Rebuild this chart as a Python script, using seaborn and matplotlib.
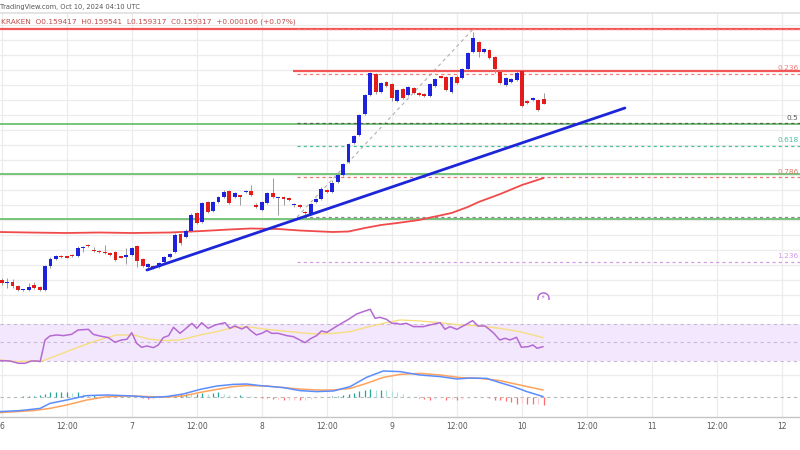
import numpy as np
import pandas as pd
import matplotlib
matplotlib.use("Agg")
import matplotlib.pyplot as plt
import seaborn as sns

# ---------------- data (hourly candles, Oct 6 00:00 = hour 0) ----------------
hours = list(range(101))
opens = [0.15580, 0.15574, 0.15576, 0.15568, 0.15560, 0.15560, 0.15570, 0.15566, 0.15560, 0.15608,
         0.15622, 0.15628, 0.15626, 0.15630, 0.15628, 0.15644, 0.15650, 0.15640, 0.15638, 0.15636,
         0.15634, 0.15636, 0.15626, 0.15626, 0.15630, 0.15648, 0.15622, 0.15606, 0.15608, 0.15606,
         0.15616, 0.15626, 0.15636, 0.15672, 0.15666, 0.15678, 0.15714, 0.15696, 0.15736, 0.15718,
         0.15736, 0.15746, 0.15758, 0.15746, 0.15748, 0.15756, 0.15758, 0.15728, 0.15720, 0.15734,
         0.15754, 0.15744, 0.15744, 0.15744, 0.15730, 0.15730, 0.15716, 0.15712, 0.15736, 0.15742,
         0.15760, 0.15756, 0.15776, 0.15790, 0.15816, 0.15854, 0.15870, 0.15912, 0.15950, 0.15992,
         0.15956, 0.15976, 0.15972, 0.15938, 0.15962, 0.15950, 0.15964, 0.15954, 0.15952, 0.15948,
         0.15968, 0.15986, 0.15986, 0.15956, 0.15986, 0.15984, 0.16002, 0.16036, 0.16056, 0.16036,
         0.16040, 0.16026, 0.15996, 0.15970, 0.15976, 0.15980, 0.15998, 0.15936, 0.15940, 0.15940,
         0.159417]
closes = [0.15574, 0.15576, 0.15568, 0.15560, 0.15561, 0.15566, 0.15564, 0.15560, 0.15608, 0.15622,
          0.15628, 0.15626, 0.15625, 0.15628, 0.15644, 0.15645, 0.15648, 0.15638, 0.15636, 0.15634,
          0.15630, 0.15620, 0.15625, 0.15630, 0.15644, 0.15618, 0.15608, 0.15612, 0.15604, 0.15614,
          0.15626, 0.15632, 0.15670, 0.15654, 0.15678, 0.15710, 0.15694, 0.15734, 0.15716, 0.15736,
          0.15746, 0.15756, 0.15734, 0.15754, 0.15747, 0.15758, 0.15750, 0.15727, 0.15736, 0.15754,
          0.15746, 0.15745, 0.15743, 0.15740, 0.15732, 0.15726, 0.15714, 0.15732, 0.15742, 0.15762,
          0.15756, 0.15774, 0.15790, 0.15812, 0.15852, 0.15868, 0.15910, 0.15950, 0.15994, 0.15956,
          0.15974, 0.15968, 0.15944, 0.15960, 0.15944, 0.15966, 0.15954, 0.15950, 0.15948, 0.15972,
          0.15982, 0.15985, 0.15960, 0.15986, 0.15974, 0.16002, 0.16034, 0.16064, 0.16036, 0.16042,
          0.16024, 0.16002, 0.15974, 0.15984, 0.15982, 0.15994, 0.15928, 0.15935, 0.15944, 0.15921,
          0.159317]
highs = [0.15584, 0.15584, 0.15582, 0.15570, 0.15562, 0.15574, 0.15576, 0.15568, 0.15610, 0.15626,
         0.15630, 0.15630, 0.15628, 0.15632, 0.15648, 0.15648, 0.15652, 0.15646, 0.15640, 0.15650,
         0.15636, 0.15638, 0.15628, 0.15644, 0.15646, 0.15650, 0.15624, 0.15614, 0.15610, 0.15616,
         0.15628, 0.15634, 0.15674, 0.15674, 0.15682, 0.15714, 0.15716, 0.15736, 0.15738, 0.15738,
         0.15748, 0.15760, 0.15760, 0.15756, 0.15750, 0.15760, 0.15770, 0.15734, 0.15738, 0.15756,
         0.15784, 0.15746, 0.15748, 0.15746, 0.15734, 0.15732, 0.15718, 0.15734, 0.15744, 0.15766,
         0.15762, 0.15780, 0.15792, 0.15814, 0.15854, 0.15870, 0.15912, 0.15952, 0.15996, 0.15994,
         0.15976, 0.15978, 0.15974, 0.15962, 0.15964, 0.15968, 0.15966, 0.15956, 0.15954, 0.15974,
         0.15984, 0.15988, 0.15988, 0.15988, 0.15990, 0.16004, 0.16036, 0.16076, 0.16058, 0.16044,
         0.16042, 0.16028, 0.15998, 0.15986, 0.15984, 0.15998, 0.16000, 0.15940, 0.15946, 0.15942,
         0.159541]
lows = [0.15570, 0.15564, 0.15564, 0.15558, 0.15558, 0.15558, 0.15562, 0.15558, 0.15558, 0.15604,
        0.15620, 0.15624, 0.15624, 0.15626, 0.15626, 0.15636, 0.15646, 0.15636, 0.15634, 0.15632,
        0.15628, 0.15618, 0.15624, 0.15612, 0.15628, 0.15606, 0.15606, 0.15604, 0.15602, 0.15604,
        0.15614, 0.15624, 0.15634, 0.15650, 0.15664, 0.15676, 0.15692, 0.15694, 0.15714, 0.15716,
        0.15734, 0.15744, 0.15732, 0.15744, 0.15730, 0.15754, 0.15748, 0.15724, 0.15718, 0.15732,
        0.15744, 0.15710, 0.15730, 0.15738, 0.15726, 0.15724, 0.15710, 0.15710, 0.15734, 0.15740,
        0.15754, 0.15754, 0.15774, 0.15788, 0.15814, 0.15852, 0.15868, 0.15910, 0.15948, 0.15952,
        0.15954, 0.15966, 0.15938, 0.15936, 0.15942, 0.15948, 0.15952, 0.15948, 0.15946, 0.15946,
        0.15966, 0.15984, 0.15958, 0.15954, 0.15972, 0.15982, 0.16000, 0.16034, 0.16026, 0.16034,
        0.16022, 0.15994, 0.15972, 0.15968, 0.15974, 0.15978, 0.15926, 0.15932, 0.15938, 0.15918,
        0.159317]

# 100 hourly simple moving average (red)
sma_hours = [-0.3, 5, 12, 18, 24, 31, 37, 42, 46, 51, 55, 61, 64, 67, 70, 73, 77, 83, 86, 88, 92, 96, 100]
sma_values = [0.15676, 0.15675, 0.15674, 0.15675, 0.15674, 0.15675, 0.15678, 0.15681, 0.15683, 0.15682,
              0.15679, 0.15676, 0.15677, 0.15684, 0.15690, 0.15694, 0.15700, 0.15714, 0.15726, 0.15736,
              0.15752, 0.15770, 0.15784]

# bullish trend line
trend_hours = [26.8, 115.0]
trend_prices = [0.15600, 0.15924]

# horizontal levels
green_levels = [0.15892, 0.15793, 0.15703]
red_top_level = 0.16082
red_mid_level = 0.15998
red_mid_start = 53.7

# fibonacci retracement
fib_labels = ["0", "0.236", "0.5", "0.618", "0.786", "1", "1.236"]
fib_prices = [0.16082, 0.15993, 0.15894, 0.15849, 0.15786, 0.15706, 0.15617]
fib_colors = ["#f47a7a", "#f47a7a", "#5a5a5a", "#4cbf9f", "#e07a6a", "#8a8a8a", "#d59ae6"]
fib_start = 54.5
fib_anchor_hours = [54.5, 87.0]
fib_anchor_prices = [0.15706, 0.16082]

# RSI (14) and its moving average
rsi_hours = [-0.3, 1.5, 3.1, 4.3, 5.5, 6.5, 7.1, 8.0, 8.9, 10.1, 11.4, 12.9, 14.1, 16.0, 16.9, 18.1, 19.7,
             20.9, 22.1, 23.1, 24.0, 24.9, 25.8, 26.8, 28.0, 28.9, 29.8, 30.8, 31.7, 32.9, 33.8, 35.1, 36.0,
             36.9, 38.1, 39.4, 41.2, 42.1, 43.0, 44.3, 45.2, 45.8, 47.0, 48.0, 48.9, 49.8, 51.0, 52.6, 53.8,
             55.0, 56.0, 56.9, 58.1, 59.0, 60.0, 61.2, 62.4, 64.0, 65.5, 66.7, 68.0, 68.9, 69.8, 71.0, 72.0,
             72.9, 73.5, 74.7, 76.0, 77.8, 79.0, 80.9, 81.8, 82.7, 84.0, 85.5, 86.9, 87.9, 89.2, 90.7, 91.9,
             92.9, 93.8, 95.0, 95.9, 97.2, 98.0, 98.8, 99.9]
rsi_values = [30.4, 30.0, 27.5, 27.5, 30.0, 30.0, 29.3, 52.7, 57.0, 58.1, 57.4, 58.8, 63.5, 64.2, 58.8, 57.0,
              55.2, 50.2, 52.7, 53.4, 60.6, 49.1, 44.8, 46.2, 44.4, 47.3, 55.2, 57.4, 66.4, 59.9, 64.2, 70.7,
              65.3, 71.4, 65.3, 68.9, 71.4, 65.3, 67.8, 64.6, 67.1, 63.5, 58.1, 59.9, 62.8, 59.9, 59.9, 57.4,
              56.3, 52.7, 49.8, 53.8, 57.4, 62.4, 61.0, 65.3, 69.6, 75.0, 80.8, 83.3, 85.9, 76.1, 77.2, 75.0,
              70.7, 70.7, 69.6, 70.7, 67.1, 67.1, 68.9, 71.4, 64.2, 67.1, 64.2, 68.9, 73.6, 67.8, 67.8, 60.6,
              52.7, 54.5, 52.7, 55.6, 44.8, 45.5, 47.3, 43.7, 45.5]
rsi_ma_hours = [-0.3, 2.8, 5.8, 7.7, 12.0, 16.9, 21.2, 24.3, 27.4, 30.4, 32.9, 36.6, 39.7, 42.7, 45.2, 48.9,
                52.0, 55.0, 58.1, 61.2, 64.3, 67.3, 70.4, 73.5, 77.2, 80.9, 84.6, 88.3, 91.9, 95.6, 99.9]
rsi_ma_values = [31.1, 29.3, 30.0, 30.4, 40.1, 50.9, 58.1, 58.1, 53.4, 52.0, 52.7, 58.1, 61.7, 66.0, 67.1,
                 64.2, 62.4, 60.6, 59.2, 59.9, 61.7, 66.4, 70.7, 74.3, 73.2, 71.4, 68.9, 67.8, 65.3, 61.7, 55.2]

# MACD (values in units of 1e-5)
macd_hours = [-0.3, 3.4, 7.1, 8.9, 12.0, 15.7, 19.4, 24.3, 27.4, 30.4, 33.5, 36.6, 39.7, 42.7, 45.2, 47.7,
              52.0, 55.0, 58.1, 61.2, 64.3, 67.3, 70.4, 73.5, 77.2, 80.9, 84.0, 86.4, 89.5, 91.9, 94.4, 96.9, 99.9]
macd_values = [-7.3, -6.8, -5.7, -3.2, -1.5, 0.7, 1.0, 0.5, -0.2, 0.2, 1.5, 3.8, 5.5, 6.3, 6.5, 5.7,
               4.7, 3.2, 2.7, 3.0, 5.2, 9.8, 13.0, 12.7, 11.0, 10.2, 9.0, 9.5, 9.3, 7.2, 5.2, 2.7, 0.2]
signal_hours = [-0.3, 5.8, 8.9, 12.0, 15.7, 19.4, 24.3, 27.4, 30.4, 33.5, 36.6, 39.7, 42.7, 45.2, 48.9,
                52.0, 55.0, 58.1, 61.2, 64.3, 67.3, 70.4, 73.5, 77.2, 80.9, 84.6, 88.3, 91.9, 95.6, 99.9]
signal_values = [-7.8, -6.8, -5.7, -4.0, -1.5, 0.2, 0.5, 0.2, 0.0, 0.5, 2.3, 3.8, 5.2, 5.7, 5.5,
                 4.7, 4.0, 3.5, 3.5, 4.3, 6.8, 9.8, 11.3, 11.8, 11.0, 9.7, 9.3, 8.2, 6.0, 3.5]
hist_values = [0, 0, .15, .15, .35, .5, .75, .85, 1.65, 2.5,
               2.5, 2.5, 2.5, 2, 2.5, 1.35, .85, .85, .5, .35,
               .25, .15, .15, .15, .15, -.15, -.5, -.75, -.75, -.35,
               -.15, .25, .75, 1.35, 1.65, 1.35, 1.65, 2, 1.65, 2,
               2.5, 1.65, .85, .5, .85, .5, .35, .15, -.25, -.5,
               -.85, -.85, -1.35, -1.35, -1.35, -1.65, -1.65, -.75, -.35, -.15,
               .15, .35, .5, .85, 1.35, 2, 3, 3.65, 4.15, 3.65,
               3.65, 3.35, 3, 2.5, 1.5, .75, .25, -.25, -.85, -1.35,
               -.75, -.5, -1.35, -.75, -1.35, -.85, -.25, .15, .15, -.15,
               -.5, -1.35, -1.65, -2, -2.5, -3.35, -3, -3.35, -3.65, -3.65,
               -4.15]

tick_hours = [0, 12, 24, 36, 48, 60, 72, 84, 96, 108, 120, 132, 144]
tick_labels = ["6", "12:00", "7", "12:00", "8", "12:00", "9", "12:00", "10", "12:00", "11", "12:00", "12"]

# ---------------- styling ----------------
sns.set_theme(style="white")
plt.rcParams["font.family"] = ["DejaVu Sans"]

UP = "#1f22dd"
DOWN = "#e41b1b"
WICK = "#9a9a9a"
GRID = "#ececec"
XLIM = (-0.31, 147.3)

fig = plt.figure(figsize=(8, 4.5), dpi=100)
ax = fig.add_axes([0, 1 - 300 / 450, 1, 287 / 450])
ax_rsi = fig.add_axes([0, 1 - 368 / 450, 1, 68 / 450])
ax_macd = fig.add_axes([0, 1 - 417 / 450, 1, 49 / 450])

for a in (ax, ax_rsi, ax_macd):
    a.set_xlim(*XLIM)
    a.set_facecolor("white")
    for s in a.spines.values():
        s.set_visible(False)
    a.set_xticks(tick_hours)
    a.tick_params(length=0)
    a.set_yticks([])
    a.set_ylabel("")
    a.set_xlabel("")
    for t in tick_hours:
        a.axvline(t, color=GRID, lw=0.9, zorder=0)

# ---------------- price pane ----------------
ax.set_ylim(0.1554, 0.16114)
for gp in np.arange(0.15550, 0.16110, 0.0003):
    ax.axhline(gp, color=GRID, lw=0.9, zorder=0)
ax.spines["top"].set_visible(True)
ax.spines["top"].set_color("#e0e0e0")
ax.set_xticklabels([])

df = pd.DataFrame({"hour": hours, "open": opens, "close": closes, "high": highs, "low": lows})
is_up = df["close"] >= df["open"]
body_bottom = np.minimum(df["open"], df["close"])
body_height = np.maximum((df["close"] - df["open"]).abs(), 0.000022)
colors = [UP if u else DOWN for u in is_up]

# fib diagonal (under candles)
ax.plot(fib_anchor_hours, fib_anchor_prices, color="#b0b0b0", lw=0.8, ls=(0, (3, 3)), zorder=1)

# horizontal levels
for g in green_levels:
    ax.axhline(g, color="#6cc070", lw=1.3, zorder=2)
ax.axhline(red_top_level, color="#f25656", lw=1.6, zorder=2)
ax.hlines(red_mid_level, red_mid_start, XLIM[1], color="#f25656", lw=1.6, zorder=2)
for lab, fp, fc in zip(fib_labels, fib_prices, fib_colors):
    ax.hlines(fp, fib_start, XLIM[1], color=fc, lw=0.9, ls=(0, (2.5, 2.5)), zorder=2)
    if lab not in ("0", "1"):
        ax.text(147.05, fp + 0.00005, lab, color=fc, fontsize=5.3, ha="right", va="bottom", zorder=6)

# SMA & trend line
sns.lineplot(x=sma_hours, y=sma_values, ax=ax, color="#f04a4a", lw=1.3, zorder=3)
sns.lineplot(x=trend_hours, y=trend_prices, ax=ax, color="#1c26d8", lw=2.0, zorder=5)

# candles
ax.vlines(df["hour"], df["low"], df["high"], color=WICK, lw=0.7, zorder=3.5)
ax.bar(df["hour"], body_height, bottom=body_bottom, width=0.72, color=colors, linewidth=0, zorder=4)

# event icon
ax.plot([99.9], [0.15545], marker="o", ms=8, mfc="white", mec="#b25fd0", mew=1.0, zorder=6)
ax.text(99.9, 0.15545, "\u26a1", color="#b25fd0", fontsize=4.5, ha="center", va="center", zorder=7)
ax.set_xlim(*XLIM)

# ---------------- RSI pane ----------------
ax_rsi.set_ylim(22.4, 95.9)
ax_rsi.set_xticklabels([])
for g in (80, 60, 40):
    ax_rsi.axhline(g, color=GRID, lw=0.9, zorder=0)
ax_rsi.axhspan(30, 70, color="#f3e7fd", zorder=0.5, lw=0)
for g in (70, 50, 30):
    ax_rsi.axhline(g, color="#c9b7d8", lw=0.8, ls=(0, (3, 3)), zorder=1)
sns.lineplot(x=rsi_ma_hours, y=rsi_ma_values, ax=ax_rsi, color="#f6de80", lw=1.0, zorder=2)
sns.lineplot(x=rsi_hours, y=rsi_values, ax=ax_rsi, color="#b56ad2", lw=1.1, zorder=3)
ax_rsi.set_xlim(*XLIM)

# ---------------- MACD pane ----------------
ax_macd.set_ylim(-10, 14.5)
ax_macd.axhline(0, color="#b8b8b8", lw=0.8, ls=(0, (3, 3)), zorder=1)
ax_macd.axhline(11, color=GRID, lw=0.9, zorder=0)
hist = np.array(hist_values)
prev = np.concatenate([[0.0], hist[:-1]])
hcolors = []
for v, p in zip(hist, prev):
    if v >= 0:
        hcolors.append("#26a69a" if v >= p else "#b2dfdb")
    else:
        hcolors.append("#ff6b6b" if v < p else "#ffcdd2")
ax_macd.vlines(hours, 0, hist, colors=hcolors, lw=0.9, zorder=2)
sns.lineplot(x=signal_hours, y=signal_values, ax=ax_macd, color="#ffa25c", lw=1.1, zorder=3)
sns.lineplot(x=macd_hours, y=macd_values, ax=ax_macd, color="#5c8dff", lw=1.1, zorder=4)
ax_macd.spines["bottom"].set_visible(True)
ax_macd.spines["bottom"].set_color("#c4c4c4")
ax_macd.spines["bottom"].set_linewidth(1.0)
ax_macd.set_xticklabels(tick_labels)
ax_macd.tick_params(axis="x", labelsize=5.5, labelcolor="#555555", pad=3.5)
ax_macd.set_xlim(*XLIM)

# ---------------- header text ----------------
fig.text(0.0, 1 - 7 / 450, "TradingView.com, Oct 10, 2024 04:10 UTC", fontsize=4.8,
         color="#555555", ha="left", va="center")
fig.text(0.001, 1 - 22 / 450,
         "KRAKEN  O0.159417  H0.159541  L0.159317  C0.159317  +0.000106 (+0.07%)",
         fontsize=5.3, color="#c0504d", ha="left", va="center")

fig.savefig("out.png", dpi=100, facecolor="white")
